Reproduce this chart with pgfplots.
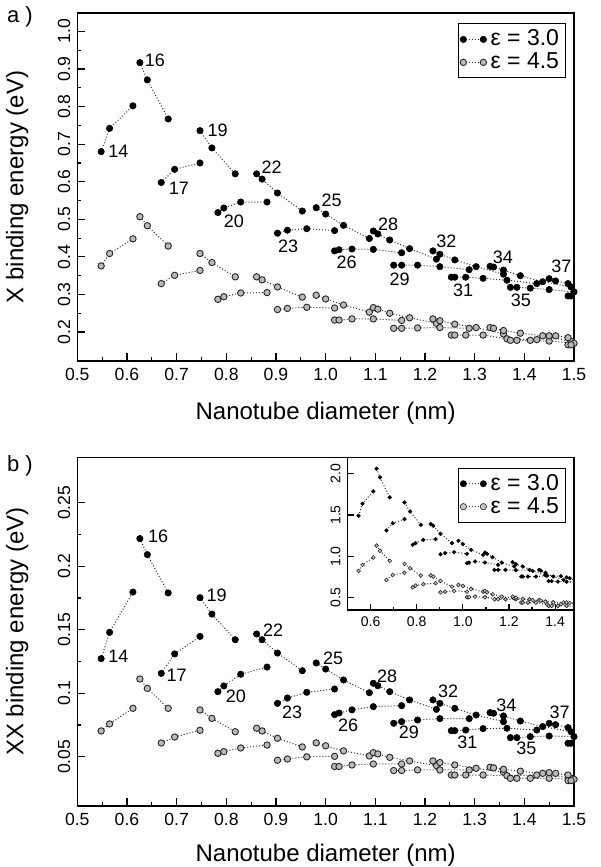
\documentclass[border=0pt]{standalone}
\usepackage{pgfplots}
\pgfplotsset{compat=1.18}
\usepackage{fontspec}
\setmainfont{Liberation Sans}
\setsansfont{Liberation Sans}

\tikzset{lab/.style={font=\fontsize{9}{10}\selectfont, inner sep=0pt}}

% marker + dotted family lines
\pgfplotsset{
  epsA/.style={draw=black!80, dash pattern=on 0.5pt off 1pt, line width=0.5pt,
    mark=*, mark size=1.6pt, mark options={solid, fill=black, draw=black, line width=0.3pt}},
  epsB/.style={draw=black!80, dash pattern=on 0.5pt off 1pt, line width=0.5pt,
    mark=*, mark size=1.6pt, mark options={solid, fill=black!27, draw=black!85, line width=0.45pt}},
  panel/.style={
    scale only axis, width=248.35pt, xmin=0.5, xmax=1.5,
    tick pos=left, tick align=inside, major tick length=4pt, minor tick length=2pt,
    axis line style={line width=0.6pt}, every tick/.style={black, line width=0.6pt},
    xtick={0.5,0.6,0.7,0.8,0.9,1.0,1.1,1.2,1.3,1.4,1.5},
    xticklabels={0.5,0.6,0.7,0.8,0.9,1.0,1.1,1.2,1.3,1.4,1.5},
    minor x tick num=1, minor y tick num=1,
    unbounded coords=jump,
    ticklabel style={font=\fontsize{8.8}{10}\selectfont},
    yticklabel style={rotate=90, anchor=south},
    label style={font=\fontsize{12}{14}\selectfont},
    legend style={at={(1,1)}, anchor=north east, xshift=-4.25pt, yshift=-5.2pt,
      draw=black, line width=0.5pt, font=\fontsize{11.5}{12.5}\selectfont,
      inner sep=1pt, row sep=-2pt, cells={anchor=west}},
    legend image code/.code={\draw[##1, mark size=1.6pt] plot coordinates {(0pt,0pt) (10pt,0pt)};},
  },
}

\begin{document}
\begin{tikzpicture}
\path[use as bounding box] (0,0) rectangle (300pt,433.5pt);

% ---------------- panel a ----------------
\begin{axis}[panel, at={(38.65pt,253pt)}, anchor=south west, height=174pt,
  ymin=0.123, ymax=1.049,
  ytick={0.2,0.3,0.4,0.5,0.6,0.7,0.8,0.9,1.0},
  yticklabels={0.2,0.3,0.4,0.5,0.6,0.7,0.8,0.9,1.0},
  xlabel={Nanotube diameter (nm)}, ylabel={X binding energy (eV)},
  xlabel style={at={(axis description cs:0.5,-0.149)}, anchor=center},
  ylabel style={at={(axis description cs:-0.121,0.5)}, anchor=center}]
\addplot[epsA] coordinates {
(0.548,0.680)(0.565,0.742)(0.612,0.802)(0.6,nan)
(0.626,0.917)(0.641,0.871)(0.683,0.767)(0.6,nan)
(0.669,0.598)(0.696,0.633)(0.747,0.650)(0.6,nan)
(0.747,0.736)(0.771,0.690)(0.818,0.621)(0.6,nan)
(0.783,0.518)(0.795,0.530)(0.829,0.546)(0.882,0.546)(0.6,nan)
(0.861,0.621)(0.872,0.607)(0.903,0.570)(0.953,0.522)(0.6,nan)
(0.903,0.463)(0.923,0.471)(0.962,0.475)(1.018,0.470)(0.6,nan)
(0.981,0.531)(1.000,0.514)(1.036,0.484)(1.088,0.449)(0.6,nan)
(1.018,0.416)(1.027,0.419)(1.053,0.421)(1.096,0.420)(1.153,0.411)(0.6,nan)
(1.096,0.469)(1.105,0.461)(1.129,0.445)(1.169,0.422)(1.223,0.394)(0.6,nan)
(1.137,0.378)(1.153,0.378)(1.185,0.378)(1.230,0.374)(1.289,0.366)(0.6,nan)
(1.216,0.416)(1.230,0.407)(1.260,0.392)(1.303,0.374)(1.358,0.354)(0.6,nan)
(1.253,0.346)(1.260,0.346)(1.282,0.346)(1.317,0.343)(1.365,0.338)(1.425,0.329)(0.6,nan)
(1.331,0.375)(1.338,0.373)(1.358,0.365)(1.392,0.350)(1.437,0.334)(1.494,0.320)(0.6,nan)
(1.372,0.319)(1.385,0.319)(1.412,0.317)(1.450,0.313)(1.500,0.307)(0.6,nan)
(1.450,0.342)(1.463,0.336)(1.488,0.329)(0.6,nan)
(1.488,0.296)(1.494,0.296)};
\addlegendentry{ε = 3.0}
\addplot[epsB] coordinates {
(0.548,0.376)(0.565,0.409)(0.612,0.448)(0.6,nan)
(0.626,0.507)(0.641,0.483)(0.683,0.429)(0.6,nan)
(0.669,0.329)(0.696,0.351)(0.747,0.364)(0.6,nan)
(0.747,0.409)(0.771,0.385)(0.818,0.347)(0.6,nan)
(0.783,0.287)(0.795,0.294)(0.829,0.304)(0.882,0.305)(0.6,nan)
(0.861,0.347)(0.872,0.339)(0.903,0.320)(0.953,0.293)(0.6,nan)
(0.903,0.260)(0.923,0.263)(0.962,0.266)(1.018,0.264)(0.6,nan)
(0.981,0.298)(1.000,0.288)(1.036,0.272)(1.088,0.253)(0.6,nan)
(1.018,0.232)(1.027,0.232)(1.053,0.235)(1.096,0.235)(1.153,0.231)(0.6,nan)
(1.096,0.265)(1.105,0.261)(1.129,0.250)(1.169,0.238)(1.223,0.223)(0.6,nan)
(1.137,0.210)(1.153,0.210)(1.185,0.211)(1.230,0.212)(1.289,0.210)(0.6,nan)
(1.216,0.235)(1.230,0.230)(1.260,0.221)(1.303,0.212)(1.358,0.195)(0.6,nan)
(1.253,0.192)(1.260,0.192)(1.282,0.192)(1.317,0.192)(1.365,0.182)(1.425,0.180)(0.6,nan)
(1.331,0.212)(1.338,0.210)(1.358,0.204)(1.392,0.197)(1.437,0.190)(1.494,0.175)(0.6,nan)
(1.372,0.178)(1.385,0.178)(1.412,0.178)(1.450,0.176)(1.500,0.170)(0.6,nan)
(1.450,0.190)(1.463,0.190)(1.488,0.185)(0.6,nan)
(1.488,0.166)(1.494,0.166)};
\addlegendentry{ε = 4.5}
\node[lab] at (axis cs:0.5825,0.680) {14};
\node[lab] at (axis cs:0.656,0.923) {16};
\node[lab] at (axis cs:0.7046,0.5825) {17};
\node[lab] at (axis cs:0.7825,0.737) {19};
\node[lab] at (axis cs:0.891,0.638) {22};
\node[lab] at (axis cs:0.8153,0.496) {20};
\node[lab] at (axis cs:0.9246,0.429) {23};
\node[lab] at (axis cs:1.012,0.551) {25};
\node[lab] at (axis cs:1.042,0.386) {26};
\node[lab] at (axis cs:1.1258,0.4867) {28};
\node[lab] at (axis cs:1.149,0.341) {29};
\node[lab] at (axis cs:1.243,0.442) {32};
\node[lab] at (axis cs:1.2767,0.312) {31};
\node[lab] at (axis cs:1.357,0.400) {34};
\node[lab] at (axis cs:1.393,0.285) {35};
\node[lab] at (axis cs:1.4747,0.376) {37};
\end{axis}

% ---------------- panel b ----------------
\begin{axis}[panel, at={(38.65pt,30.5pt)}, anchor=south west, height=174.35pt,
  ymin=0.0113, ymax=0.2858,
  ytick={0.05,0.1,0.15,0.2,0.25},
  yticklabels={0.05,0.1,0.15,0.2,0.25},
  xlabel={Nanotube diameter (nm)}, ylabel={XX binding energy (eV)},
  xlabel style={at={(axis description cs:0.5,-0.1405)}, anchor=center},
  ylabel style={at={(axis description cs:-0.121,0.5)}, anchor=center}]
\addplot[epsA] coordinates {
(0.548,0.1273)(0.565,0.1480)(0.612,0.1797)(0.6,nan)
(0.626,0.2218)(0.641,0.2092)(0.683,0.1790)(0.6,nan)
(0.669,0.1157)(0.696,0.1310)(0.747,0.1448)(0.6,nan)
(0.747,0.1753)(0.771,0.1624)(0.818,0.1422)(0.6,nan)
(0.783,0.1013)(0.795,0.1058)(0.829,0.1150)(0.882,0.1207)(0.6,nan)
(0.861,0.1467)(0.872,0.1422)(0.903,0.1317)(0.953,0.1178)(0.6,nan)
(0.903,0.0921)(0.923,0.0963)(0.962,0.1008)(1.018,0.1034)(0.6,nan)
(0.981,0.1239)(1.000,0.1191)(1.036,0.1105)(1.088,0.1005)(0.6,nan)
(1.018,0.0832)(1.027,0.0845)(1.053,0.0870)(1.096,0.0895)(1.153,0.0903)(0.6,nan)
(1.096,0.1079)(1.105,0.1060)(1.129,0.1013)(1.169,0.0948)(1.223,0.0874)(0.6,nan)
(1.137,0.0764)(1.153,0.0777)(1.185,0.0790)(1.230,0.0801)(1.289,0.0801)(0.6,nan)
(1.216,0.0948)(1.230,0.0921)(1.260,0.0882)(1.303,0.0829)(1.358,0.0777)(0.6,nan)
(1.253,0.0706)(1.260,0.0706)(1.282,0.0711)(1.317,0.0722)(1.365,0.0725)(1.425,0.0711)(0.6,nan)
(1.331,0.0848)(1.338,0.0843)(1.358,0.0822)(1.392,0.0782)(1.437,0.0738)(1.494,0.0698)(0.6,nan)
(1.372,0.0651)(1.385,0.0651)(1.412,0.0659)(1.450,0.0664)(1.500,0.0659)(0.6,nan)
(1.450,0.0764)(1.463,0.0753)(1.488,0.0730)(0.6,nan)
(1.488,0.0607)(1.494,0.0607)};
\addplot[epsB] coordinates {
(0.548,0.0704)(0.565,0.0759)(0.612,0.0882)(0.6,nan)
(0.626,0.1113)(0.641,0.1039)(0.683,0.0882)(0.6,nan)
(0.669,0.0609)(0.696,0.0656)(0.747,0.0709)(0.6,nan)
(0.747,0.0869)(0.771,0.0803)(0.818,0.0698)(0.6,nan)
(0.783,0.0528)(0.795,0.0541)(0.829,0.0570)(0.882,0.0593)(0.6,nan)
(0.861,0.0725)(0.872,0.0704)(0.903,0.0646)(0.953,0.0578)(0.6,nan)
(0.903,0.0473)(0.923,0.0483)(0.962,0.0500)(1.018,0.0504)(0.6,nan)
(0.981,0.0610)(1.000,0.0587)(1.036,0.0547)(1.088,0.0507)(0.6,nan)
(1.018,0.0424)(1.027,0.0424)(1.053,0.0436)(1.096,0.0444)(1.153,0.0444)(0.6,nan)
(1.096,0.0533)(1.105,0.0523)(1.129,0.0496)(1.169,0.0468)(1.223,0.0431)(0.6,nan)
(1.137,0.0392)(1.153,0.0392)(1.185,0.0397)(1.230,0.0397)(1.289,0.0397)(0.6,nan)
(1.216,0.0468)(1.230,0.0455)(1.260,0.0436)(1.303,0.0410)(1.358,0.0380)(0.6,nan)
(1.253,0.0357)(1.260,0.0357)(1.282,0.0357)(1.317,0.0357)(1.365,0.0352)(1.425,0.0357)(0.6,nan)
(1.331,0.0418)(1.338,0.0413)(1.358,0.0402)(1.392,0.0387)(1.437,0.0370)(1.494,0.0331)(0.6,nan)
(1.372,0.0331)(1.385,0.0331)(1.412,0.0331)(1.450,0.0331)(1.500,0.0323)(0.6,nan)
(1.450,0.0376)(1.463,0.0370)(1.488,0.0357)(0.6,nan)
(1.488,0.0313)(1.494,0.0313)};
\node[lab] at (axis cs:0.5825,0.1288) {14};
\node[lab] at (axis cs:0.6626,0.2237) {16};
\node[lab] at (axis cs:0.7805,0.1774) {19};
\node[lab] at (axis cs:0.700,0.1139) {17};
\node[lab] at (axis cs:0.8944,0.1498) {22};
\node[lab] at (axis cs:0.8193,0.0979) {20};
\node[lab] at (axis cs:0.9326,0.0847) {23};
\node[lab] at (axis cs:1.0151,0.1276) {25};
\node[lab] at (axis cs:1.0453,0.0745) {26};
\node[lab] at (axis cs:1.1237,0.1131) {28};
\node[lab] at (axis cs:1.1674,0.0690) {29};
\node[lab] at (axis cs:1.2465,0.1013) {32};
\node[lab] at (axis cs:1.2855,0.0611) {31};
\node[lab] at (axis cs:1.364,0.0902) {34};
\node[lab] at (axis cs:1.404,0.0567) {35};
\node[lab] at (axis cs:1.4712,0.0850) {37};
\end{axis}

% ---------------- inset ----------------
\begin{axis}[panel, at={(173.75pt,128.5pt)}, anchor=south west,
  width=113.25pt, height=76.35pt,
  xmin=0.5, xmax=1.482, ymin=0.35, ymax=2.198,
  axis background/.style={fill=white},
  xtick={0.6,0.8,1.0,1.2,1.4}, xticklabels={0.6,0.8,1.0,1.2,1.4},
  ytick={0.5,1.0,1.5,2.0}, yticklabels={0.5,1.0,1.5,2.0},
  minor x tick num=1, minor y tick num=0,
  major tick length=3pt, minor tick length=1.5pt,
  ticklabel style={font=\fontsize{7}{8}\selectfont},
  epsA/.append style={mark size=0.95pt, mark options={solid, fill=black, draw=black, line width=0.2pt}},
  epsB/.append style={mark size=0.95pt, mark options={solid, fill=black!22, draw=black!85, line width=0.3pt}}]
\addplot[epsA] coordinates {
(0.548,1.490)(0.565,1.636)(0.612,1.786)(0.6,nan)
(0.626,2.060)(0.641,1.955)(0.683,1.713)(0.6,nan)
(0.669,1.313)(0.696,1.400)(0.747,1.450)(0.6,nan)
(0.747,1.652)(0.771,1.543)(0.818,1.381)(0.6,nan)
(0.783,1.140)(0.795,1.160)(0.829,1.199)(0.882,1.207)(0.6,nan)
(0.861,1.389)(0.872,1.369)(0.903,1.272)(0.953,1.159)(0.6,nan)
(0.903,1.025)(0.923,1.038)(0.962,1.050)(1.018,1.030)(0.6,nan)
(0.981,1.187)(1.000,1.147)(1.036,1.078)(1.088,1.017)(0.6,nan)
(1.018,0.916)(1.027,0.924)(1.053,0.937)(1.096,0.924)(1.153,0.896)(0.6,nan)
(1.096,1.046)(1.105,1.030)(1.129,0.989)(1.169,0.924)(1.223,0.876)(0.6,nan)
(1.137,0.835)(1.153,0.835)(1.185,0.835)(1.230,0.831)(1.289,0.835)(0.6,nan)
(1.216,0.928)(1.230,0.904)(1.260,0.876)(1.303,0.823)(1.358,0.770)(0.6,nan)
(1.253,0.755)(1.260,0.755)(1.282,0.755)(1.317,0.755)(1.365,0.765)(1.425,0.760)(0.6,nan)
(1.331,0.835)(1.338,0.827)(1.358,0.800)(1.392,0.755)(1.437,0.714)(1.494,0.670)(0.6,nan)
(1.372,0.700)(1.385,0.700)(1.412,0.694)(1.450,0.690)(1.500,0.680)(0.6,nan)
(1.450,0.745)(1.463,0.735)(1.488,0.700)(0.6,nan)
(1.488,0.653)(1.494,0.653)};
\addlegendentry{ε = 3.0}
\addplot[epsB] coordinates {
(0.548,0.823)(0.565,0.896)(0.612,0.985)(0.6,nan)
(0.626,1.130)(0.641,1.066)(0.683,0.945)(0.6,nan)
(0.669,0.714)(0.696,0.775)(0.747,0.800)(0.6,nan)
(0.747,0.908)(0.771,0.856)(0.818,0.767)(0.6,nan)
(0.783,0.625)(0.795,0.645)(0.829,0.662)(0.882,0.674)(0.6,nan)
(0.861,0.767)(0.872,0.755)(0.903,0.702)(0.953,0.633)(0.6,nan)
(0.903,0.564)(0.923,0.572)(0.962,0.580)(1.018,0.572)(0.6,nan)
(0.981,0.653)(1.000,0.641)(1.036,0.605)(1.088,0.572)(0.6,nan)
(1.018,0.504)(1.027,0.504)(1.053,0.512)(1.096,0.504)(1.153,0.484)(0.6,nan)
(1.096,0.580)(1.105,0.564)(1.129,0.540)(1.169,0.512)(1.223,0.490)(0.6,nan)
(1.137,0.480)(1.153,0.480)(1.185,0.480)(1.230,0.480)(1.289,0.480)(0.6,nan)
(1.216,0.512)(1.230,0.500)(1.260,0.484)(1.303,0.470)(1.358,0.451)(0.6,nan)
(1.253,0.440)(1.260,0.440)(1.282,0.440)(1.317,0.440)(1.365,0.420)(1.425,0.420)(0.6,nan)
(1.331,0.470)(1.338,0.463)(1.358,0.450)(1.392,0.443)(1.437,0.440)(1.494,0.430)(0.6,nan)
(1.372,0.400)(1.385,0.400)(1.412,0.400)(1.450,0.400)(1.500,0.390)(0.6,nan)
(1.450,0.440)(1.463,0.435)(1.488,0.420)(0.6,nan)
(1.488,0.380)(1.494,0.380)};
\addlegendentry{ε = 4.5}
\end{axis}

\node[font=\fontsize{11}{12}\selectfont, anchor=center] at (10pt,425pt) {a )};
\node[font=\fontsize{11}{12}\selectfont, anchor=center] at (10pt,200.5pt) {b )};
\end{tikzpicture}
\end{document}
